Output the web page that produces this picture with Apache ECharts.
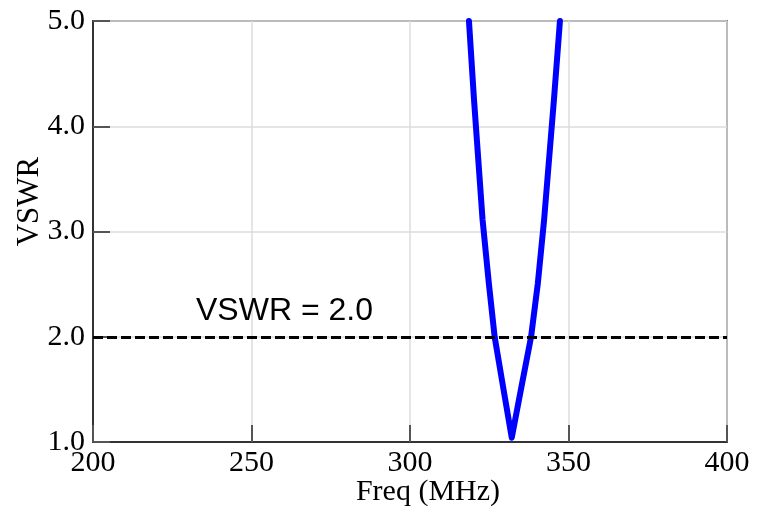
<!DOCTYPE html>
<html>
<head>
<meta charset="utf-8">
<script src="https://cdn.jsdelivr.net/npm/echarts@6/dist/echarts.min.js"></script>
<style>
  html, body { margin: 0; padding: 0; background: #fff; }
  #main { width: 759px; height: 513px; }
</style>
</head>
<body>
<div id="main"></div>
<script>
  // frequency (MHz) and VSWR
  const freq = [318.6, 320.2, 322.9, 324.9, 326.7, 329.5, 332.1, 335.0, 338.2, 340.3, 342.3, 345.4, 347.3];
  const vswr = [5.0, 4.25, 3.11, 2.5, 2.0, 1.5, 1.04, 1.5, 2.0, 2.5, 3.11, 4.25, 5.0];
  const refLevel = 2.0;
  const refLabel = 'VSWR = 2.0';
  const xTicks = [200, 250, 300, 350, 400];
  const yTicks = [1.0, 2.0, 3.0, 4.0, 5.0];

  const serif = 'Liberation Serif';

  const chart = echarts.init(document.getElementById('main'));

  const option = {
    animation: false,
    grid: {
      left: 93,
      right: 32,
      top: 21,
      bottom: 71,
      outerBoundsMode: 'none',
      show: true,
      borderColor: '#222',
      borderWidth: 1.5,
      backgroundColor: 'transparent'
    },
    xAxis: {
      type: 'value',
      min: xTicks[0],
      max: xTicks[xTicks.length - 1],
      interval: 50,
      name: 'Freq (MHz)',
      nameLocation: 'middle',
      nameGap: 35,
      nameMoveOverlap: false,
      nameTextStyle: { fontFamily: serif, fontSize: 30, color: '#000', padding: [0, 0, 0, 36] },
      axisLine: { lineStyle: { color: '#333', width: 2 } },
      axisTick: { inside: true, length: 17, lineStyle: { color: '#555', width: 2 } },
      axisLabel: { fontFamily: serif, fontSize: 30, color: '#000', margin: 6 },
      splitLine: { show: true, lineStyle: { color: '#dcdcdc', width: 1.5 } }
    },
    yAxis: {
      type: 'value',
      min: yTicks[0],
      max: yTicks[yTicks.length - 1],
      interval: 1,
      name: 'VSWR',
      nameLocation: 'middle',
      nameGap: 48,
      nameRotate: 90,
      nameMoveOverlap: false,
      nameTextStyle: { fontFamily: serif, fontSize: 31, color: '#000', padding: [0, 0, 0, 60] },
      axisLine: { show: true, lineStyle: { color: '#333', width: 2 } },
      axisTick: { show: true, inside: true, length: 17, lineStyle: { color: '#555', width: 2 } },
      axisLabel: {
        fontFamily: serif, fontSize: 30, color: '#000', margin: 8,
        formatter: v => v.toFixed(1)
      },
      splitLine: { show: true, lineStyle: { color: '#dcdcdc', width: 1.5 } }
    },
    series: [
      {
        type: 'line',
        data: freq.map((f, i) => [f, vswr[i]]),
        showSymbol: false,
        smooth: false,
        lineStyle: { color: '#0000ff', width: 6, cap: 'round', join: 'round' },
        z: 3,
        markLine: {
          silent: true,
          symbol: 'none',
          lineStyle: { color: '#000', width: 3, type: [10, 4] },
          label: {
            show: true,
            position: 'insideStartTop',
            distance: [103, 10],
            formatter: refLabel,
            fontFamily: 'Liberation Sans',
            fontSize: 32,
            color: '#000'
          },
          data: [{ yAxis: refLevel }]
        }
      }
    ]
  };

  chart.setOption(option);
</script>
</body>
</html>
